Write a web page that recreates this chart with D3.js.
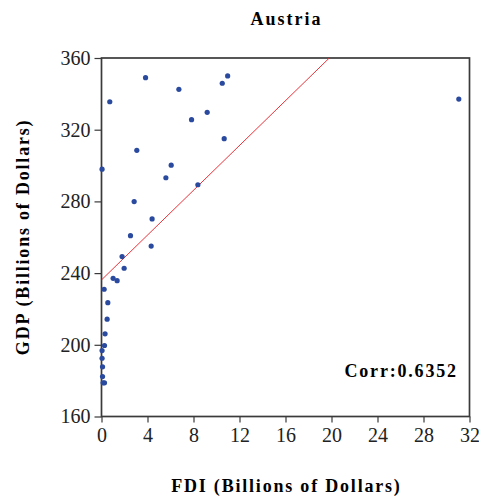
<!DOCTYPE html>
<html><head><meta charset="utf-8">
<script src="https://cdn.jsdelivr.net/npm/d3@7"></script>
<style>body{margin:0;background:#fff}svg{display:block}</style>
</head><body>
<svg id="c" width="479" height="501"></svg>
<script>
const fdi = [3.83,0.72,6.73,10.5,10.97,9.19,7.83,10.67,3.07,0.05,6.06,5.6,8.38,2.84,4.4,2.52,4.32,1.79,1.97,1.01,1.36,0.23,0.55,0.49,0.31,0.26,0.05,0.05,0.09,0.09,0.14,0.26,31.07];
const gdp = [349,335.6,342.5,345.9,350,329.7,325.6,315,308.5,298,300.2,293.2,289.3,279.9,270.2,260.9,255.1,249.2,242.7,237.1,235.8,231,223.5,214.3,206.1,199.6,196.8,192.5,187.7,182.3,178.8,178.8,337.1];
const xTicks = [0,4,8,12,16,20,24,28,32];
const yTicks = [160,200,240,280,320,360];
const fitIntercept = 236.2, fitSlope = 6.25;
const corrLabel = "Corr:0.6352";

const svg = d3.select("#c");
const L=101.5, R=469.5, T=58, B=416.5;
const x = d3.scaleLinear().domain([0,32]).range([L,R]);
const y = d3.scaleLinear().domain([160,360]).range([B,T]);
const font = "'Liberation Serif','Times New Roman',serif";
const axC = "#3a3a3a";

const gx = svg.append("g").attr("transform",`translate(0,${B})`)
  .call(d3.axisBottom(x).tickValues(xTicks).tickSize(6).tickSizeOuter(0).tickPadding(5));
const gy = svg.append("g").attr("transform",`translate(${L},0)`)
  .call(d3.axisLeft(y).tickValues(yTicks).tickSize(7).tickSizeOuter(0).tickPadding(4));
[gx,gy].forEach(g=>{
  g.select(".domain").remove();
  g.selectAll("line").attr("stroke",axC).attr("stroke-width",1.2);
  g.selectAll("text").attr("font-family",font).attr("font-size",20).attr("fill","#222");
});
svg.append("rect").attr("x",L).attr("y",T).attr("width",R-L).attr("height",B-T)
  .attr("fill","none").attr("stroke",axC).attr("stroke-width",1.7);

svg.append("clipPath").attr("id","cp").append("rect").attr("x",L).attr("y",T).attr("width",R-L).attr("height",B-T);
const xEnd = (360-fitIntercept)/fitSlope;
svg.append("line").attr("clip-path","url(#cp)")
  .attr("x1",x(0)).attr("y1",y(fitIntercept)).attr("x2",x(xEnd)).attr("y2",y(360))
  .attr("stroke","#e8333a").attr("stroke-width",1);

svg.append("g").selectAll("circle").data(fdi.map((d,i)=>[d,gdp[i]])).join("circle")
  .attr("cx",d=>x(d[0])).attr("cy",d=>y(d[1])).attr("r",2.6).attr("fill","#2a4a9f");

svg.append("text").attr("x",(L+R)/2+1).attr("y",25).attr("text-anchor","middle")
  .attr("font-family",font).attr("font-weight","bold").attr("font-size",18).attr("letter-spacing",2).text("Austria");
svg.append("text").attr("x",(L+R)/2+0.9).attr("y",492).attr("text-anchor","middle")
  .attr("font-family",font).attr("font-weight","bold").attr("font-size",18).attr("letter-spacing",1.8).text("FDI (Billions of Dollars)");
svg.append("text").attr("transform",`translate(29,${236+0.9}) rotate(-90)`).attr("text-anchor","middle")
  .attr("font-family",font).attr("font-weight","bold").attr("font-size",18).attr("letter-spacing",1.8).text("GDP (Billions of Dollars)");
svg.append("text").attr("x",457.8).attr("y",377).attr("text-anchor","end")
  .attr("font-family",font).attr("font-weight","bold").attr("font-size",18).attr("letter-spacing",1.8).text(corrLabel);
</script>
</body></html>
